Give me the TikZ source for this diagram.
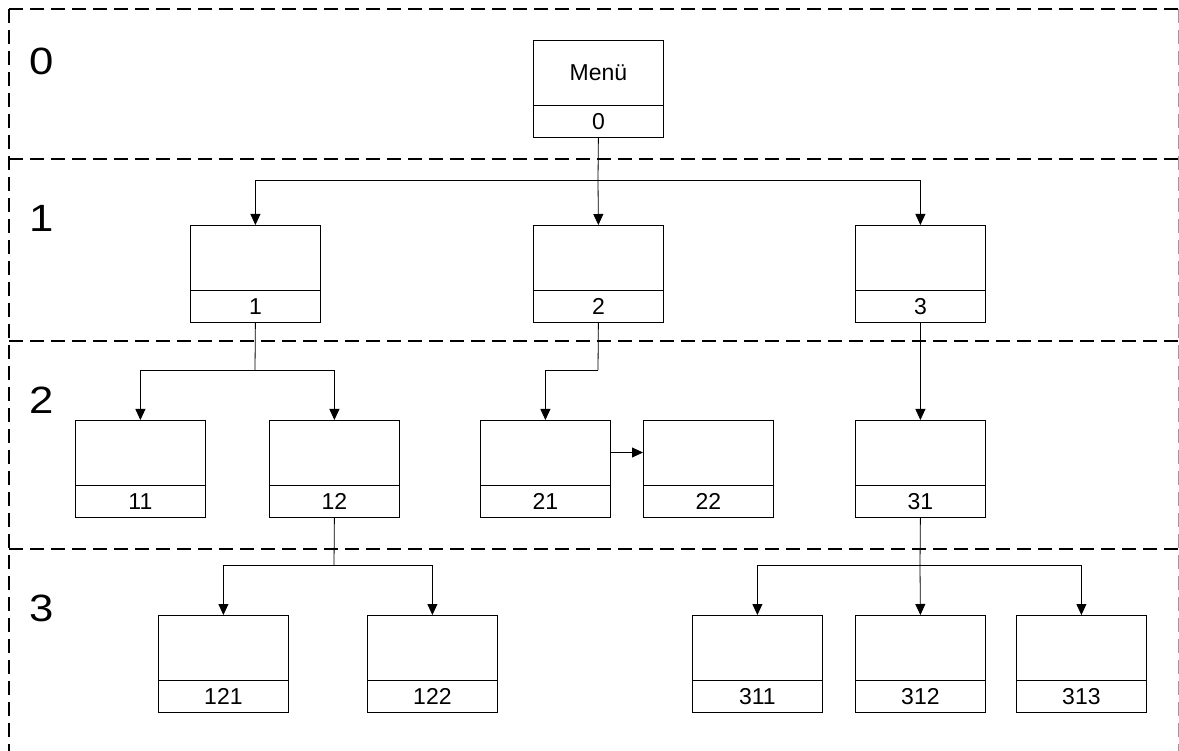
\documentclass[tikz,border=0pt]{standalone}
\usepackage{fontspec}
\setmainfont{Liberation Sans}
\newfontfamily\lvlfont[FakeStretch=1.15]{Liberation Sans}
\usetikzlibrary{arrows.meta}
\tikzset{
  boxst/.style={draw, line width=0.8pt, minimum width=130pt, minimum height=97pt, inner sep=0pt, anchor=north west},
  boxtxt/.style={font=\fontsize{23}{26}\selectfont, inner sep=0pt},
  lvl/.style={font=\lvlfont\fontsize{38}{44}\selectfont, inner sep=0pt},
  dsh/.style={line width=1.4pt, dash pattern=on 14pt off 7pt},
  conn/.style={line width=0.8pt},
  arr/.style={line width=0.8pt, -{Triangle[length=11pt,width=10pt]}},
}
\newcommand\mkbox[5]{%
  \node[boxst] (#1) at (#2,#3) {};
  \draw[line width=0.8pt] ([yshift=-65pt]#1.north west) -- ([yshift=-65pt]#1.north east);
  \node[boxtxt] (#1t) at ([yshift=-32.5pt]#1.north) {#4};
  \node[boxtxt] (#1b) at ([yshift=16pt]#1.south) {#5};
}
\begin{document}
\begin{tikzpicture}[x=1pt,y=-1pt]
\useasboundingbox (0,0) rectangle (1179,751);
\clip (0,0) rectangle (1179,751);
% frame and level separators
\draw[dsh] (9,9) -- (1178.5,9);
\draw[dsh] (9,9) -- (9,760);
\draw[dsh, black!40] (1178.5,9) -- (1178.5,760);
\draw[dsh] (9,159) -- (1178.5,159);
\draw[dsh] (9,341) -- (1178.5,341);
\draw[dsh] (9,549) -- (1178.5,549);
% level labels
\node[lvl] (l0) at (41.5,61) {0};
\node[lvl] (l1) at (41.5,218) {1};
\node[lvl] (l2) at (41.5,400) {2};
\node[lvl] (l3) at (41.5,608) {3};
% boxes
\mkbox{m}{533}{40}{Menü}{0}
\mkbox{b1}{190}{225}{}{1}
\mkbox{b2}{533}{225}{}{2}
\mkbox{b3}{855}{225}{}{3}
\mkbox{b11}{75}{420}{}{11}
\mkbox{b12}{269}{420}{}{12}
\mkbox{b21}{480}{420}{}{21}
\mkbox{b22}{643}{420}{}{22}
\mkbox{b31}{855}{420}{}{31}
\mkbox{b121}{158}{615}{}{121}
\mkbox{b122}{367}{615}{}{122}
\mkbox{b311}{692}{615}{}{311}
\mkbox{b312}{855}{615}{}{312}
\mkbox{b313}{1016}{615}{}{313}
% junction points
\coordinate (j0) at (598,180);
\coordinate (j1) at (255,370);
\coordinate (j2) at (598,370);
\coordinate (j12) at (334,565);
\coordinate (j31) at (920,565);
% connectors
\draw[conn] (m.south) -- (j0);
\draw[arr] (j0) -| (b1.north);
\draw[arr] (j0) -- (b2.north);
\draw[arr] (j0) -| (b3.north);
\draw[conn] (b1.south) -- (j1);
\draw[arr] (j1) -| (b11.north);
\draw[arr] (j1) -| (b12.north);
\draw[conn] (b2.south) -- (j2);
\draw[arr] (j2) -| (b21.north);
\draw[arr] (b3.south) -- (b31.north);
\draw[arr] (b21.east |- b21t) -- (b22.west |- b22t);
\draw[conn] (b12.south) -- (j12);
\draw[arr] (j12) -| (b121.north);
\draw[arr] (j12) -| (b122.north);
\draw[conn] (b31.south) -- (j31);
\draw[arr] (j31) -| (b311.north);
\draw[arr] (j31) -- (b312.north);
\draw[arr] (j31) -| (b313.north);
\end{tikzpicture}
\end{document}
